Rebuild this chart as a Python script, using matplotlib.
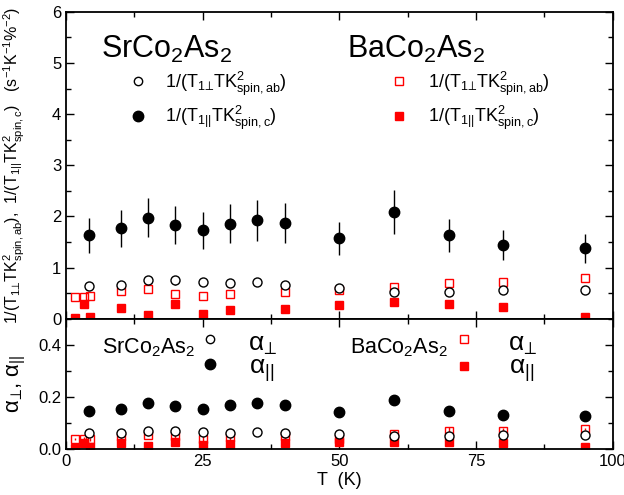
import matplotlib
matplotlib.use('Agg')
import matplotlib.pyplot as plt
from matplotlib.ticker import MultipleLocator, FormatStrFormatter

plt.rcParams['font.family'] = ['Liberation Sans', 'DejaVu Sans']
plt.rcParams['mathtext.fontset'] = 'custom'
plt.rcParams['mathtext.rm'] = 'Liberation Sans'
plt.rcParams['mathtext.it'] = 'Liberation Sans:italic'
plt.rcParams['mathtext.sf'] = 'Liberation Sans'

# SrCo2As2 (black circles)
sr_T = [4.2, 10, 15, 20, 25, 30, 35, 40, 50, 60, 70, 80, 95]
sr_inv_perp = [0.65, 0.67, 0.75, 0.75, 0.72, 0.69, 0.71, 0.66, 0.61, 0.53, 0.53, 0.56, 0.57]
sr_inv_perp_err = [0.06, 0.06, 0.08, 0.08, 0.07, 0.06, 0.07, 0.06, 0.05, 0.05, 0.05, 0.05, 0.05]
sr_inv_par = [1.63, 1.77, 1.98, 1.83, 1.73, 1.86, 1.93, 1.88, 1.57, 2.09, 1.63, 1.44, 1.38]
sr_inv_par_err = [0.35, 0.36, 0.39, 0.37, 0.36, 0.38, 0.40, 0.39, 0.33, 0.43, 0.33, 0.29, 0.28]
sr_alpha_perp = [0.061, 0.062, 0.069, 0.069, 0.066, 0.063, 0.066, 0.062, 0.057, 0.048, 0.048, 0.052, 0.052]
sr_alpha_par = [0.145, 0.154, 0.177, 0.164, 0.154, 0.167, 0.175, 0.168, 0.141, 0.188, 0.146, 0.129, 0.125]

# BaCo2As2 (red squares)
ba_T = [1.6, 3.2, 4.3, 10, 15, 20, 25, 30, 40, 50, 60, 70, 80, 95]
ba_inv_perp = [0.43, 0.43, 0.45, 0.54, 0.59, 0.49, 0.44, 0.49, 0.53, 0.56, 0.63, 0.69, 0.72, 0.80]
ba_inv_par = [0.01, 0.28, 0.04, 0.22, 0.08, 0.29, 0.10, 0.18, 0.20, 0.26, 0.32, 0.28, 0.24, 0.04]
ba_alpha_perp = [0.039, 0.039, 0.037, 0.050, 0.054, 0.050, 0.040, 0.045, 0.048, 0.040, 0.057, 0.069, 0.070, 0.077]
ba_alpha_par = [0.004, 0.022, 0.009, 0.022, 0.012, 0.025, 0.015, 0.020, 0.022, 0.025, 0.028, 0.025, 0.022, 0.009]
ba_alpha_err = [0.004, 0.008, 0.005, 0.012, 0.006, 0.012, 0.01, 0.012, 0.012, 0.012, 0.012, 0.014, 0.012, 0.004]

red = '#ff0000'
lab_perp = r'1/(T$_{\mathrm{1⊥}}$TK$^{2}_{\mathrm{spin,ab}}$)'
lab_par = r'1/(T$_{\mathrm{1||}}$TK$^{2}_{\mathrm{spin,c}}$)'

fig = plt.figure(figsize=(6.24, 4.95), dpi=100)
ax1 = fig.add_axes([0.106, 0.356, 0.876, 0.620])
ax2 = fig.add_axes([0.106, 0.093, 0.876, 0.263])

# top panel
ax1.errorbar(sr_T, sr_inv_par, yerr=sr_inv_par_err, fmt='o', color='black',
             ms=7.5, elinewidth=1, capsize=0, zorder=3)
ax1.errorbar(sr_T, sr_inv_perp, yerr=sr_inv_perp_err, fmt='o', mfc='white', mec='black',
             ecolor='black', ms=6.5, mew=1, elinewidth=1, capsize=0, zorder=4)
ax1.plot(ba_T, ba_inv_perp, 's', mfc='none', mec=red, ms=6, mew=1, zorder=2)
ax1.plot(ba_T, ba_inv_par, 's', color=red, ms=6, zorder=2)

ax1.set_xlim(0, 100)
ax1.set_ylim(0, 6)
ax1.yaxis.set_major_locator(MultipleLocator(1))
ax1.yaxis.set_minor_locator(MultipleLocator(0.5))
ax1.xaxis.set_major_locator(MultipleLocator(25))
ax1.xaxis.set_minor_locator(MultipleLocator(12.5))
ax1.tick_params(labelbottom=False)
ax1.set_ylabel(lab_perp + ',  ' + lab_par + r'   (s$^{-1}$K$^{-1}$%$^{-2}$)', fontsize=11.5)
ax1.yaxis.set_label_coords(-0.072, 0.5)

# top legend-like annotations
ax1.text(6.3, 5.27, r'SrCo$_2$As$_2$', fontsize=22, va='center')
ax1.text(51.3, 5.27, r'BaCo$_2$As$_2$', fontsize=22, va='center')
ax1.plot([13.1], [4.64], 'o', mfc='white', mec='black', ms=6)
ax1.plot([13.1], [3.97], 'o', color='black', ms=7.5)
ax1.text(18.1, 4.6, lab_perp, fontsize=13, va='center')
ax1.text(18.1, 3.93, lab_par, fontsize=13, va='center')
ax1.plot([60.9], [4.64], 's', mfc='none', mec=red, ms=6)
ax1.plot([60.9], [3.96], 's', color=red, ms=6)
ax1.text(66.2, 4.6, lab_perp, fontsize=13, va='center')
ax1.text(66.2, 3.93, lab_par, fontsize=13, va='center')

# bottom panel
ax2.errorbar(ba_T, ba_alpha_perp, yerr=ba_alpha_err, fmt='s', mfc='none', mec=red,
             ecolor=red, ms=6, mew=1, elinewidth=1, capsize=0, zorder=2)
ax2.errorbar(ba_T, ba_alpha_par, yerr=ba_alpha_err, fmt='s', color=red,
             ms=6, elinewidth=1, capsize=0, zorder=2)
ax2.plot(sr_T, sr_alpha_par, 'o', color='black', ms=7.5, zorder=3)
ax2.plot(sr_T, sr_alpha_perp, 'o', mfc='white', mec='black', ms=6.5, mew=1, zorder=4)

ax2.set_xlim(0, 100)
ax2.set_ylim(0, 0.5)
ax2.yaxis.set_major_locator(MultipleLocator(0.2))
ax2.yaxis.set_minor_locator(MultipleLocator(0.1))
ax2.xaxis.set_major_locator(MultipleLocator(25))
ax2.xaxis.set_minor_locator(MultipleLocator(12.5))
ax2.yaxis.set_major_formatter(FormatStrFormatter('%.1f'))
ax2.set_xlabel('T  (K)', fontsize=13, labelpad=2)
ax2.set_ylabel(r'α$_{\mathrm{⊥}}$, α$_{||}$', fontsize=16)
ax2.yaxis.set_label_coords(-0.07, 0.5)

ax2.text(6.6, 0.39, r'SrCo$_2$As$_2$', fontsize=15.5, va='center')
ax2.plot([26.4], [0.423], 'o', mfc='white', mec='black', ms=6)
ax2.plot([26.4], [0.326], 'o', color='black', ms=7.5)
ax2.text(33.2, 0.40, r'α$_{\mathrm{⊥}}$', fontsize=19, va='center')
ax2.text(33.5, 0.30, r'α$_{||}$', fontsize=19, va='center')
ax2.text(52.0, 0.39, r'BaCo$_2$As$_2$', fontsize=15.5, va='center')
ax2.plot([72.8], [0.423], 's', mfc='none', mec=red, ms=6)
ax2.plot([72.8], [0.318], 's', color=red, ms=6)
ax2.text(80.8, 0.40, r'α$_{\mathrm{⊥}}$', fontsize=19, va='center')
ax2.text(81.1, 0.30, r'α$_{||}$', fontsize=19, va='center')

for ax in (ax1, ax2):
    ax.tick_params(which='both', direction='in', top=True, right=True, labelsize=12)
    ax.tick_params(which='major', length=6, width=1)
    ax.tick_params(which='minor', length=3.5, width=1)
    for sp in ax.spines.values():
        sp.set_linewidth(1.3)

fig.savefig('out.png', dpi=100)
